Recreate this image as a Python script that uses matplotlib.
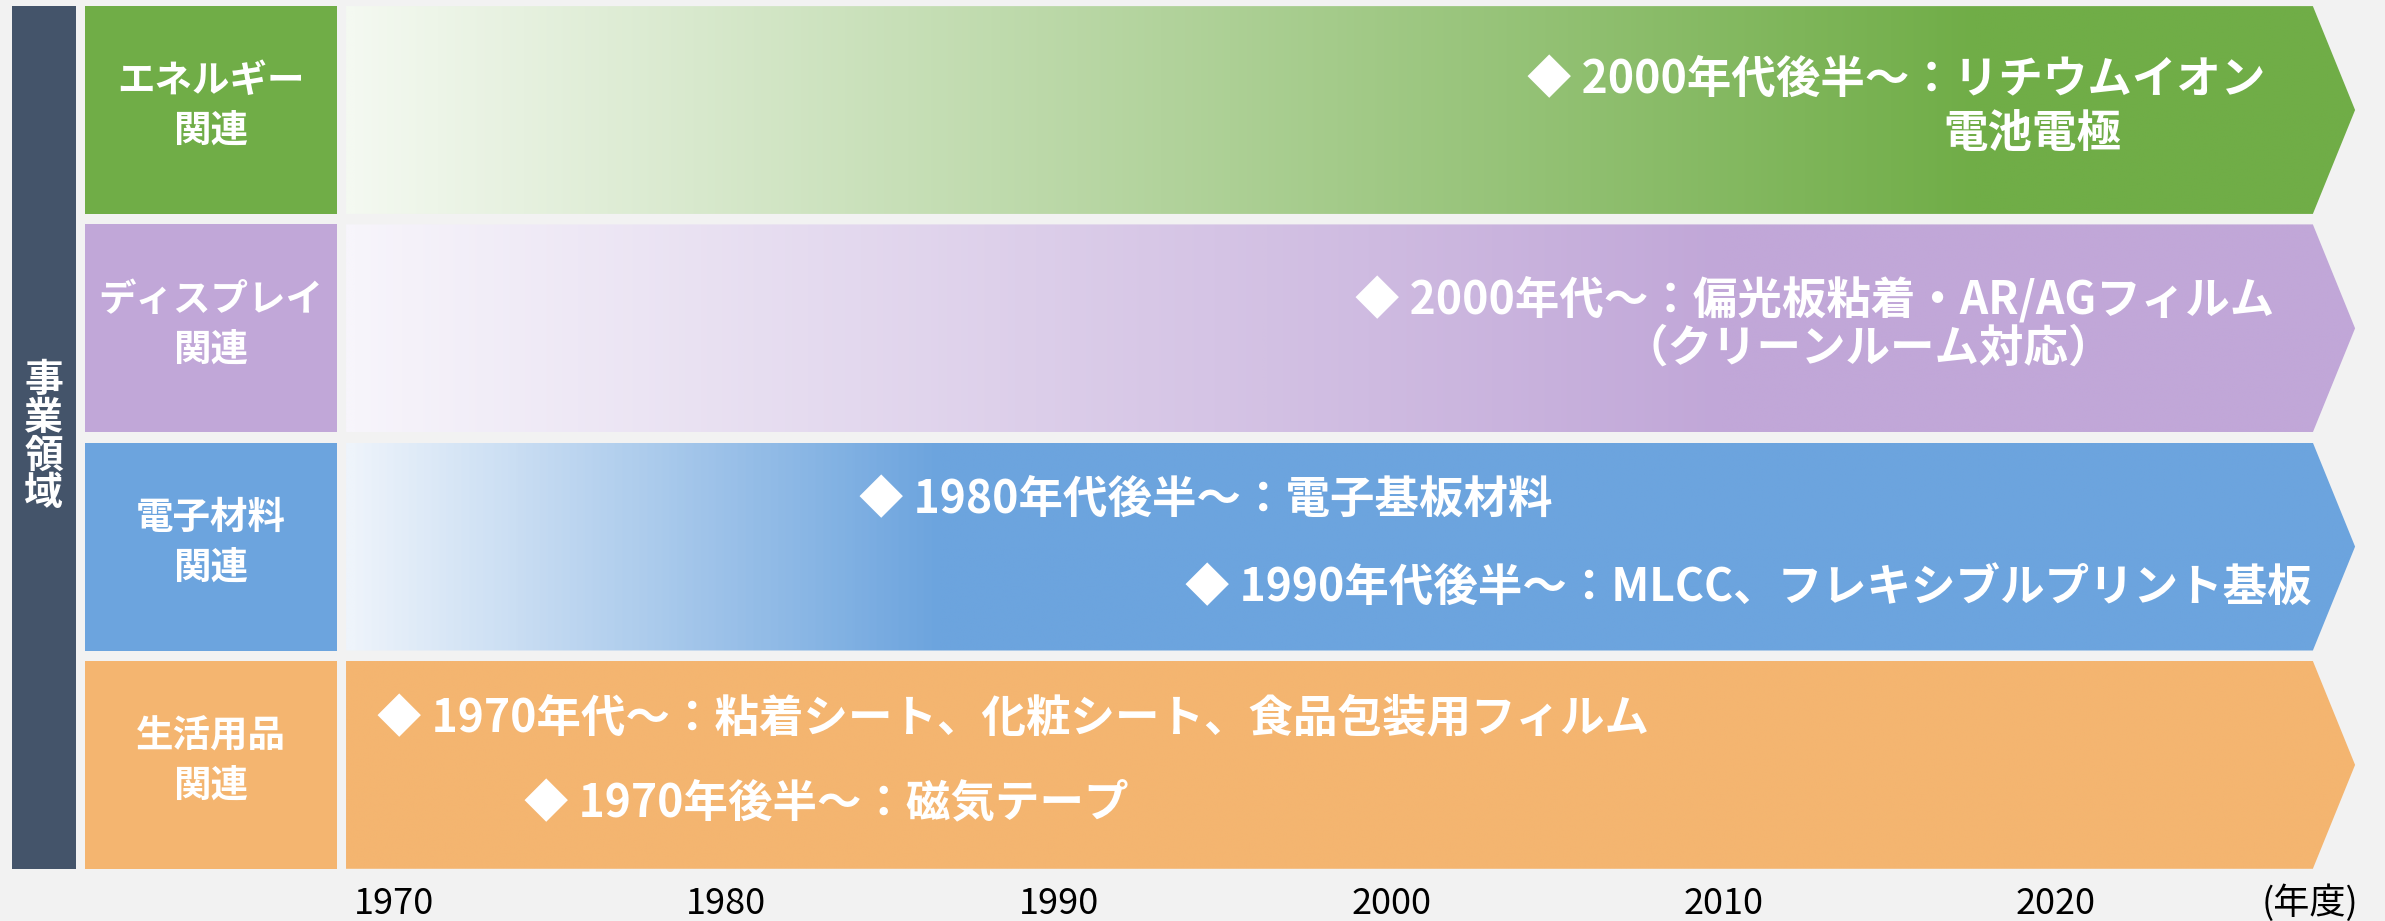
import numpy as np
import matplotlib
matplotlib.use('Agg')
import matplotlib.pyplot as plt
from matplotlib.patches import Rectangle, Polygon
from matplotlib.colors import LinearSegmentedColormap

# ---------------- data ----------------
categories = ['エネルギー\n関連', 'ディスプレイ\n関連', '電子材料\n関連', '生活用品\n関連']
colors_full = ['#70AD47', '#C1A7D8', '#6CA4DE', '#F4B570']
colors_start = ['#F4F9F1', '#F7F5FB', '#EEF4FB', '#F4B570']
grad_full_at = [0.83, 0.70, 0.30, 0.0]   # fraction of arrow length where full colour is reached

years = [1970, 1980, 1990, 2000, 2010, 2020]
year_labels = ['1970', '1980', '1990', '2000', '2010', '2020']
axis_unit = '(年度)'
side_title = ['事', '業', '領', '域']

note_text = ['◆ 2000年代後半～：リチウムイオン', '電池電極',
             '◆ 2000年代～：偏光板粘着・AR/AGフィルム', '（クリーンルーム対応）',
             '◆ 1980年代後半～：電子基板材料', '◆ 1990年代後半～：MLCC、フレキシブルプリント基板',
             '◆ 1970年代～：粘着シート、化粧シート、食品包装用フィルム', '◆ 1970年後半～：磁気テープ']
note_row = [0, 0, 1, 1, 2, 2, 3, 3]
note_start = [2004.1, 2016.6, 1998.9, 2007.0, 1984.0, 1993.8, 1969.5, 1973.9]
note_dy = [-0.135, 0.108, -0.125, 0.092, -0.212, 0.190, -0.210, 0.180]

# ---------------- layout ----------------
XMIN, XMAX = 1958.15, 2029.90
ARROW_START, ARROW_BODY_END, ARROW_TIP = 1968.56, 2027.73, 2029.0
HALF_H = 0.476
BAR_X = (1958.51, 1960.43)
BOX_X = (1960.70, 1968.29)
CJK = ['Noto Sans CJK JP', 'DejaVu Sans']
NARROW = ['Liberation Sans Narrow', 'Noto Sans CJK JP']

fig = plt.figure(figsize=(23.85, 9.21), dpi=100, facecolor='#F2F2F2')
ax = fig.add_axes([0, 45 / 921, 1, 876 / 921])
ax.set_facecolor('none')
ax.set_xlim(XMIN, XMAX)
ax.set_ylim(3.509, -0.504)
for s in ax.spines.values():
    s.set_visible(False)
ax.set_yticks([])
ax.set_xticks(years)
ax.set_xticklabels(year_labels, family=NARROW, fontsize=26, color='black')
ax.tick_params(axis='x', length=0, pad=7)

# dark side bar
ax.add_patch(Rectangle((BAR_X[0], -HALF_H), BAR_X[1] - BAR_X[0], 3 + 2 * HALF_H,
                       facecolor='#44546A', edgecolor='none', zorder=2))
for k, ch in enumerate(side_title):
    ax.text((BAR_X[0] + BAR_X[1]) / 2, 1.498 + (k - 1.5) * 0.174, ch, family=CJK,
            fontsize=28, fontweight='bold', color='white', ha='center', va='center', zorder=3)

for i, cat in enumerate(categories):
    # category box
    ax.add_patch(Rectangle((BOX_X[0], i - HALF_H), BOX_X[1] - BOX_X[0], 2 * HALF_H,
                           facecolor=colors_full[i], edgecolor='none', zorder=2))
    ax.text((BOX_X[0] + BOX_X[1]) / 2, i - 0.02, cat, family=CJK, fontsize=27,
            fontweight='bold', color='white', ha='center', va='center',
            linespacing=1.35, zorder=3)
    # arrow with gradient
    verts = [(ARROW_START, i - HALF_H), (ARROW_BODY_END, i - HALF_H), (ARROW_TIP, i),
             (ARROW_BODY_END, i + HALF_H), (ARROW_START, i + HALF_H)]
    poly = Polygon(verts, closed=True, facecolor='none', edgecolor='none')
    ax.add_patch(poly)
    f = grad_full_at[i]
    if f > 0:
        cmap = LinearSegmentedColormap.from_list(
            'g%d' % i, [(0, colors_start[i]), (f, colors_full[i]), (1, colors_full[i])])
    else:
        cmap = LinearSegmentedColormap.from_list('g%d' % i, [colors_full[i], colors_full[i]])
    body_frac = (ARROW_BODY_END - ARROW_START) / (ARROW_TIP - ARROW_START)
    grad = np.clip(np.linspace(0, 1, 800) / body_frac, 0, 1)[None, :]
    im = ax.imshow(grad, cmap=cmap, vmin=0, vmax=1, aspect='auto',
                   extent=[ARROW_START, ARROW_TIP, i + HALF_H, i - HALF_H],
                   interpolation='bilinear', zorder=2)
    im.set_clip_path(poly)

for t, r, x, dy in zip(note_text, note_row, note_start, note_dy):
    ax.text(x, r + dy, t, family=CJK, fontsize=32, fontweight='bold', color='white',
            ha='left', va='center', zorder=4)

ax.text(2027.64, 3.632, axis_unit, family=NARROW, fontsize=26, color='black',
        ha='center', va='center', clip_on=False)

fig.savefig('out.png', dpi=100, facecolor=fig.get_facecolor())
